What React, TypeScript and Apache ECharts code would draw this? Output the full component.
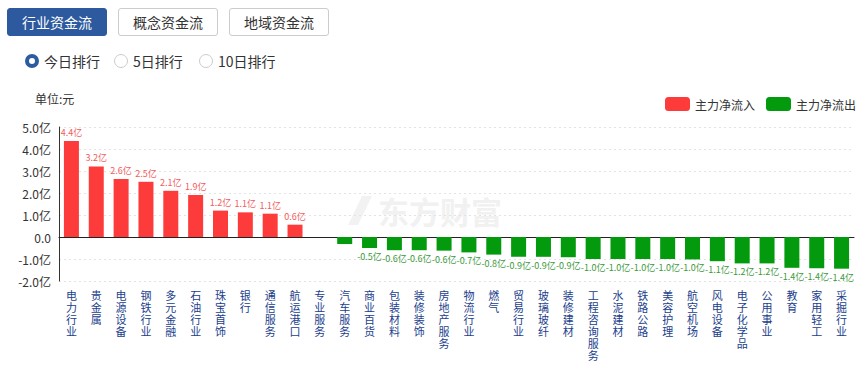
import React, { useEffect, useRef } from "react";
import * as echarts from "echarts";

const categories = [
  "电力行业", "贵金属", "电源设备", "钢铁行业", "多元金融", "石油行业", "珠宝首饰", "银行",
  "通信服务", "航运港口", "专业服务", "汽车服务", "商业百货", "包装材料", "装修装饰", "房地产服务",
  "物流行业", "燃气", "贸易行业", "玻璃玻纤", "装修建材", "工程咨询服务", "水泥建材", "铁路公路",
  "美容护理", "航空机场", "风电设备", "电子化学品", "公用事业", "教育", "家用轻工", "采掘行业",
];

// net flow, 亿元
const netFlow = [
  4.36, 3.21, 2.64, 2.51, 2.1, 1.91, 1.2, 1.12, 1.06, 0.56,
  0, -0.32, -0.5, -0.6, -0.6, -0.62, -0.7, -0.8, -0.9, -0.9,
  -0.92, -1.0, -1.0, -1.0, -1.0, -1.02, -1.1, -1.2, -1.2, -1.4,
  -1.42, -1.44,
];

const unlabeled = ["专业服务", "汽车服务"];

const yTicks = { min: -2, max: 5, interval: 1 };

const RED = "#fe3b3b";
const GREEN = "#039a0e";
const FONT = "'Noto Sans CJK SC', 'Noto Sans', sans-serif";

function Chart() {
  const ref = useRef<HTMLDivElement>(null);
  useEffect(() => {
    if (!ref.current) return;
    const chart = echarts.init(ref.current, null, { renderer: "svg" });
    const mk = (positive: boolean) =>
      netFlow.map((v, i) => {
        const ok = positive ? v > 0 : v < 0;
        if (!ok) return "-";
        if (unlabeled.includes(categories[i])) return { value: v, label: { show: false } };
        return v;
      });
    chart.setOption({
      animation: false,
      textStyle: { fontFamily: FONT },
      graphic: [
        {
          type: "text",
          left: 35,
          top: 92,
          style: { text: "单位:元", font: `12px ${FONT}`, fill: "#333" },
        },
        {
          type: "text",
          left: 378,
          top: 195,
          z: -10,
          style: { text: "东方财富", font: `bold 31px ${FONT}`, fill: "#f1f1f1" },
        },
        {
          type: "polygon",
          z: -10,
          shape: { points: [[348, 225], [362, 196], [372, 196], [358, 225]] },
          style: { fill: "#f2f2f2" },
        },
      ],
      legend: {
        right: 5,
        top: 92,
        itemWidth: 25,
        itemHeight: 14,
        itemGap: 11,
        icon: "roundRect",
        textStyle: { fontSize: 12, color: "#333", fontFamily: FONT },
        data: ["主力净流入", "主力净流出"],
      },
      grid: { left: 59, right: 12, top: 127, bottom: 85, containLabel: false },
      xAxis: [
        {
          type: "category",
          data: categories,
          position: "bottom",
          axisLine: { show: false, onZero: false },
          axisTick: { show: false },
          axisLabel: {
            interval: 0,
            margin: 8,
            color: "#22408c",
            fontSize: 11,
            lineHeight: 12,
            fontFamily: FONT,
            formatter: (v: string) => v.split("").join("\n"),
          },
        },
        {
          type: "category",
          data: categories,
          position: "top",
          axisLine: { show: true, onZero: true, lineStyle: { color: "#222", width: 1 } },
          axisTick: { show: false },
          axisLabel: { show: false },
        },
      ],
      yAxis: {
        type: "value",
        min: yTicks.min,
        max: yTicks.max,
        interval: yTicks.interval,
        axisLine: { show: true, lineStyle: { color: "#333" } },
        axisTick: { show: false },
        axisLabel: {
          color: "#333",
          fontSize: 12,
          margin: 8,
          fontFamily: FONT,
          formatter: (v: number) => (v === 0 ? "0.0" : v.toFixed(1) + "亿"),
        },
        splitLine: { lineStyle: { color: "#e3e3e3", type: [2, 3] } },
      },
      series: [
        {
          name: "主力净流入",
          type: "bar",
          stack: "flow",
          barWidth: 15,
          itemStyle: { color: RED },
          label: {
            show: true,
            position: "top",
            distance: 4,
            fontSize: 9,
            color: "#f25c5c",
            formatter: (p: any) => p.value.toFixed(1) + "亿",
          },
          data: mk(true),
        },
        {
          name: "主力净流出",
          type: "bar",
          stack: "flow",
          barWidth: 15,
          itemStyle: { color: GREEN },
          label: {
            show: true,
            position: "bottom",
            distance: 4,
            fontSize: 9,
            color: "#3a9a3a",
            formatter: (p: any) => p.value.toFixed(1) + "亿",
          },
          data: mk(false),
        },
      ],
    });
    return () => chart.dispose();
  }, []);
  return <div ref={ref} style={{ position: "absolute", left: 0, top: 0, width: 866, height: 366 }} />;
}

const btnBase: React.CSSProperties = {
  position: "absolute",
  top: 8,
  height: 28,
  width: 100,
  boxSizing: "border-box",
  borderRadius: 3,
  fontSize: 14,
  lineHeight: "26px",
  textAlign: "center",
  fontFamily: FONT,
};

function Radio({ x, label, checked }: { x: number; label: string; checked: boolean }) {
  return (
    <div style={{ position: "absolute", left: x - 7, top: 53, height: 16, display: "flex", alignItems: "center" }}>
      <div
        style={{
          width: 14,
          height: 14,
          boxSizing: "border-box",
          borderRadius: "50%",
          border: checked ? "4px solid #2d5b9f" : "1px solid #ccc",
          background: "#fff",
        }}
      />
      <span style={{ marginLeft: 5, fontSize: 14, color: "#333", fontFamily: FONT }}>{label}</span>
    </div>
  );
}

export default function App() {
  return (
    <div style={{ position: "absolute", left: 0, top: 0, width: 866, height: 366, background: "#fff", overflow: "hidden" }}>
      <Chart />
      <div style={{ ...btnBase, left: 7, background: "#2d5a9e", color: "#fff", border: "1px solid #2d5a9e" }}>行业资金流</div>
      <div style={{ ...btnBase, left: 118, background: "#fff", color: "#333", border: "1px solid #ccc" }}>概念资金流</div>
      <div style={{ ...btnBase, left: 229, background: "#fff", color: "#333", border: "1px solid #ccc" }}>地域资金流</div>
      <Radio x={32} label="今日排行" checked={true} />
      <Radio x={121} label="5日排行" checked={false} />
      <Radio x={206} label="10日排行" checked={false} />
    </div>
  );
}
